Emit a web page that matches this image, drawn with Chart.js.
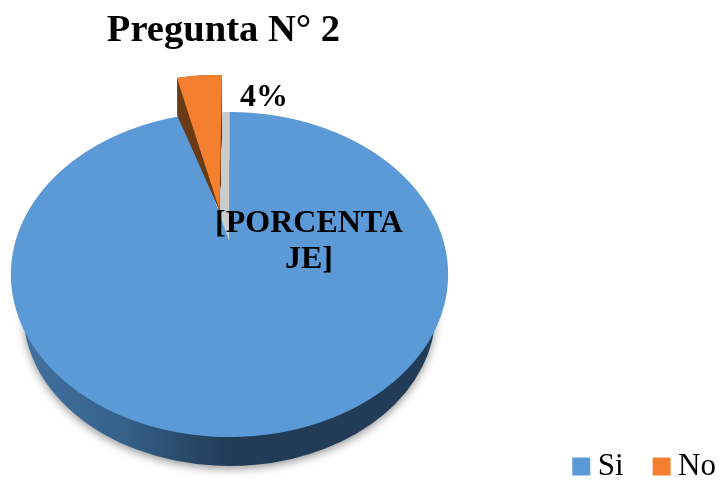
<!DOCTYPE html>
<html>
<head>
<meta charset="utf-8">
<style>html,body{margin:0;padding:0;background:#fff}canvas{display:block}</style>
<script src="https://cdn.jsdelivr.net/npm/chart.js@4"></script>
</head>
<body>
<canvas id="c" width="721" height="481"></canvas>
<script>
const chartTitle = 'Pregunta N° 2';
const categories = ['Si', 'No'];
const values = [96, 4];
const siLabelLines = ['[PORCENTA', 'JE]'];
const noLabel = '4%';
const colors = ['#5b9ad6', '#f4802f'];

const serif = '"Liberation Serif","Times New Roman",serif';

/* projective view of the disc: top 112, hub 242, front 437 */
const K = -0.2, A = 107.6, B = 242, E = 214.2, CX = 229.5;

function withColor(arc, color, fn) {
  const o = arc.options;
  arc.options = Object.assign(Object.create(o), {backgroundColor: color});
  fn();
  arc.options = o;
}
function drawPerspective(ctx, arc, color, y0, y1) {
  const R = arc.outerRadius, ax = arc.x, ay = arc.y;
  withColor(arc, color, () => {
    for (let Y = y0; Y < y1; Y++) {
      const yc = Y + 0.5;
      const v = (yc - B) / (A - K * yc);
      const den = 1 + K * v;
      const D = (A - B * K) / (den * den);
      ctx.save();
      ctx.beginPath();
      ctx.rect(0, Y, 721, 1);
      ctx.clip();
      ctx.translate(CX, yc - D * v);
      ctx.scale(E / den / R, D / R);
      ctx.translate(-ax, -ay);
      arc.draw(ctx);
      ctx.restore();
    }
  });
}
function drawWedge(ctx, arc, color, tip, right, left) {
  const R = arc.outerRadius, ax = arc.x, ay = arc.y;
  const th = arc.endAngle - arc.startAngle, s = Math.sin(th), c = Math.cos(th);
  const P = [right[0] - tip[0], right[1] - tip[1]];
  const Q = [left[0] - tip[0], left[1] - tip[1]];
  const c2 = [-P[0] / R, -P[1] / R];
  const c1 = [(c * P[0] - Q[0]) / (s * R), (c * P[1] - Q[1]) / (s * R)];
  withColor(arc, color, () => {
    ctx.save();
    ctx.transform(c1[0], c1[1], c2[0], c2[1],
      tip[0] - c1[0] * ax - c2[0] * ay,
      tip[1] - c1[1] * ax - c2[1] * ay);
    arc.draw(ctx);
    ctx.restore();
  });
}

const pie3d = {
  id: 'pie3d',
  afterLayout(chart) {
    chart.titleBlock.left = 0;
    chart.titleBlock.right = 447;
    const lg = chart.legend;
    lg.left += 37;
    lg.right += 37;
    lg.top += 11;
    lg.bottom += 11;
  },
  beforeDatasetsDraw(chart) {
    const ctx = chart.ctx;
    const [si, no] = chart.getDatasetMeta(0).data;
    const R = si.outerRadius, ax = si.x, ay = si.y;

    // side wall
    const sx = s => ax + (s - CX) * R / 206;
    const g = ctx.createLinearGradient(sx(23), 0, sx(435), 0);
    g.addColorStop(0, '#41719f');
    g.addColorStop(0.25, '#35608a');
    g.addColorStop(0.42, '#274663');
    g.addColorStop(0.5, '#223c57');
    g.addColorStop(1, '#223c57');
    withColor(si, g, () => {
      ctx.save();
      ctx.shadowColor = 'rgba(0,0,0,0.4)';
      ctx.shadowBlur = 9;
      ctx.shadowOffsetY = 3;
      ctx.translate(CX, 313);
      ctx.scale(206 / R, 153 / R);
      ctx.translate(-ax, -ay);
      si.draw(ctx);
      ctx.restore();
    });

    // cut face behind the pulled slice, then top of the big slice
    drawPerspective(ctx, no, '#cbcbcb', 106, 250);
    drawPerspective(ctx, si, colors[0], 106, 442);

    // pulled slice
    const tip = [219.5, 210], right = [222, 75], left = [177, 78];
    for (let t = 37; t >= 0; t -= 1) {
      drawWedge(ctx, no, '#6b3d17', tip, [right[0], right[1] + t], [left[0], left[1] + t]);
    }
    drawWedge(ctx, no, colors[1], tip, right, left);
    return false;
  },
  afterDraw(chart) {
    const ctx = chart.ctx;
    ctx.save();
    ctx.fillStyle = '#000';
    ctx.font = 'bold 32px ' + serif;
    ctx.textAlign = 'center';
    ctx.textBaseline = 'middle';
    ctx.fillText(noLabel, 264, 97.5);
    ctx.fillText(siLabelLines[0], 309, 224);
    ctx.fillText(siLabelLines[1], 309, 260);
    ctx.restore();
  }
};

new Chart(document.getElementById('c'), {
  type: 'pie',
  plugins: [pie3d],
  data: {
    labels: categories,
    datasets: [{data: values, backgroundColor: colors, borderWidth: 0}]
  },
  options: {
    responsive: false,
    animation: false,
    layout: {padding: {top: 4, right: 5, bottom: 0, left: 0}},
    plugins: {
      tooltip: {enabled: false},
      title: {
        display: true,
        text: chartTitle,
        color: '#000',
        font: {family: serif, size: 38.6, weight: 'bold'},
        padding: {top: 4, bottom: 4}
      },
      legend: {
        position: 'bottom',
        align: 'end',
        labels: {
          usePointStyle: true,
          pointStyle: 'rect',
          boxWidth: 2,
          boxHeight: 18,
          color: '#000',
          padding: 37,
          font: {family: serif, size: 31}
        }
      }
    }
  }
});
</script>
</body>
</html>
